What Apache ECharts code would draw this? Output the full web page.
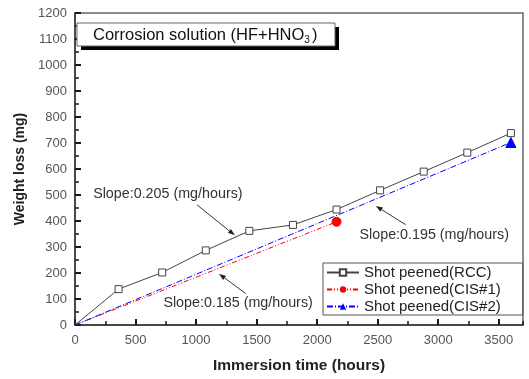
<!DOCTYPE html>
<html>
<head>
<meta charset="utf-8">
<script src="https://cdn.jsdelivr.net/npm/echarts@6/dist/echarts.min.js"></script>
<style>
  html, body { margin: 0; padding: 0; background: #fff; }
  #chart { width: 529px; height: 379px; }
</style>
</head>
<body>
<div id="chart"></div>
<script>
// Immersion times (hours) and weight loss (mg)
var immersionHours = [0, 360, 720, 1080, 1440, 1800, 2160, 2520, 2880, 3240, 3600];
var rccLoss        = [0, 138, 202, 287, 362, 385, 444, 518, 590, 663, 738];
var cis1Hours = [0, 2160];
var cis1Loss  = [0, 397];
var cis2Hours = [0, 3600];
var cis2Loss  = [0, 702];

var seriesNames = ['Shot peened(RCC)', 'Shot peened(CIS#1)', 'Shot peened(CIS#2)'];

// slope notes: text, label anchor and arrow (tail -> head), in data units
var slopeNotes = [
  { text: 'Slope:0.205 (mg/hours)', at: [150, 505], tail: [1008, 462], head: [1320, 345] },
  { text: 'Slope:0.185 (mg/hours)', at: [730, 83], tail: [1410, 121], head: [1189, 197] },
  { text: 'Slope:0.195 (mg/hours)', at: [2350, 347], tail: [2730, 386], head: [2484, 458] }
];

var chart = echarts.init(document.getElementById('chart'));
var font = 'Arial, "Liberation Sans", sans-serif';

// hide the marker at the origin point, show it elsewhere
function endOnly(xs, ys) {
  return xs.map(function (x, i) {
    var p = { value: [x, ys[i]] };
    if (i === 0) p.symbol = 'none';
    return p;
  });
}

var tickColor = '#1a1a1a';
var plain = function (v) { return String(v); };

// main axis (labels + major ticks) and an overlay axis carrying the minor ticks
function mainAxis(extra) {
  return Object.assign({
    type: 'value',
    axisLine: { show: true, onZero: false, lineStyle: { color: '#333', width: 1.5 } },
    axisTick: { show: true, inside: true, length: 6, lineStyle: { color: tickColor, width: 2 } },
    axisLabel: { color: '#555', fontSize: 13, formatter: plain, fontFamily: font },
    splitLine: { show: false }
  }, extra);
}
function minorAxis(extra) {
  return Object.assign({
    type: 'value',
    axisLine: { show: false, onZero: false },
    axisTick: { show: true, inside: true, length: 4, lineStyle: { color: tickColor, width: 1.5 } },
    axisLabel: { show: false },
    splitLine: { show: false }
  }, extra);
}

chart.setOption({
  animation: false,
  textStyle: { fontFamily: font },
  grid: {
    left: 75, right: 6, top: 13, bottom: 50,
    show: true, borderColor: '#666', borderWidth: 1.5, backgroundColor: 'transparent'
  },
  xAxis: [
    mainAxis({
      min: 0, max: 3700, interval: 500, position: 'bottom',
      name: 'Immersion time (hours)', nameLocation: 'middle', nameGap: 33,
      nameTextStyle: { fontSize: 15.5, fontWeight: 'bold', color: '#222', fontFamily: font },
      axisLabel: { color: '#555', fontSize: 13, margin: 9, showMaxLabel: false, formatter: plain, fontFamily: font }
    }),
    minorAxis({ min: 0, max: 3700, interval: 250, position: 'bottom', offset: 0 })
  ],
  yAxis: [
    mainAxis({
      min: 0, max: 1200, interval: 100, position: 'left',
      name: 'Weight loss (mg)', nameLocation: 'middle', nameGap: 39,
      nameTextStyle: { fontSize: 14, fontWeight: 'bold', color: '#222', fontFamily: font },
      axisLabel: { color: '#555', fontSize: 13, margin: 8, formatter: plain, fontFamily: font }
    }),
    minorAxis({ min: 0, max: 1200, interval: 50, position: 'left', offset: 0 })
  ],
  legend: {
    orient: 'vertical', left: 323, top: 263,
    width: 196,
    data: seriesNames,
    borderColor: '#555', borderWidth: 1, borderRadius: 0,
    padding: [2, 22, 1, 3],
    itemWidth: 32, itemHeight: 8, itemGap: 2,
    textStyle: { fontSize: 15, color: '#222', fontFamily: font }
  },
  series: [
    {
      name: seriesNames[0], type: 'line',
      data: endOnly(immersionHours, rccLoss),
      symbol: 'rect', symbolSize: 7,
      itemStyle: { color: '#fff', borderColor: '#444', borderWidth: 1 },
      lineStyle: { color: '#444', width: 1 },
      z: 4
    },
    {
      name: seriesNames[1], type: 'line',
      data: endOnly(cis1Hours, cis1Loss),
      symbol: 'circle', symbolSize: 9,
      itemStyle: { color: '#f00', borderColor: '#f00' },
      lineStyle: { color: '#f00', width: 1, type: [5, 2, 1, 2, 1, 2] },
      z: 3
    },
    {
      name: seriesNames[2], type: 'line',
      data: endOnly(cis2Hours, cis2Loss),
      symbol: 'triangle', symbolSize: 10,
      itemStyle: { color: '#00f', borderColor: '#00f' },
      lineStyle: { color: '#00f', width: 1, type: [6, 2, 1, 2] },
      z: 3
    }
  ]
});

// Title box with drop shadow, plus slope notes with arrows
function drawOverlay() {
  var els = [
    { type: 'rect', shape: { x: 81, y: 27, width: 258, height: 23 }, style: { fill: '#000' }, z: 10 },
    { type: 'rect', shape: { x: 77, y: 23, width: 258, height: 23 }, style: { fill: '#fff', stroke: '#666', lineWidth: 1 }, z: 11 },
    {
      type: 'text', x: 93, y: 35, z: 12,
      style: {
        text: '{n|Corrosion solution (HF+HNO}{s|3}{n|)}',
        verticalAlign: 'middle',
        rich: {
          n: { fontSize: 16.5, fill: '#111', fontFamily: font },
          s: { fontSize: 10, fill: '#111', fontFamily: font, padding: [11, 2, 0, 0] }
        }
      }
    }
  ];
  slopeNotes.forEach(function (n) {
    var at = chart.convertToPixel({ xAxisIndex: 0, yAxisIndex: 0 }, n.at);
    var t = chart.convertToPixel({ xAxisIndex: 0, yAxisIndex: 0 }, n.tail);
    var h = chart.convertToPixel({ xAxisIndex: 0, yAxisIndex: 0 }, n.head);
    els.push({
      type: 'text', x: at[0], y: at[1], z: 12,
      style: { text: n.text, fontSize: 14.3, fill: '#333', fontFamily: font, verticalAlign: 'middle' }
    });
    var ang = Math.atan2(h[1] - t[1], h[0] - t[0]);
    var L = 7, W = 2.5;
    var bx = h[0] - L * Math.cos(ang), by = h[1] - L * Math.sin(ang);
    els.push({
      type: 'line', z: 12,
      shape: { x1: t[0], y1: t[1], x2: bx, y2: by },
      style: { stroke: '#333', lineWidth: 1 }
    });
    els.push({
      type: 'polygon', z: 12,
      shape: { points: [
        [h[0], h[1]],
        [bx + W * Math.sin(ang), by - W * Math.cos(ang)],
        [bx - W * Math.sin(ang), by + W * Math.cos(ang)]
      ] },
      style: { fill: '#222' }
    });
  });
  chart.setOption({ graphic: els });
}
drawOverlay();
</script>
</body>
</html>
